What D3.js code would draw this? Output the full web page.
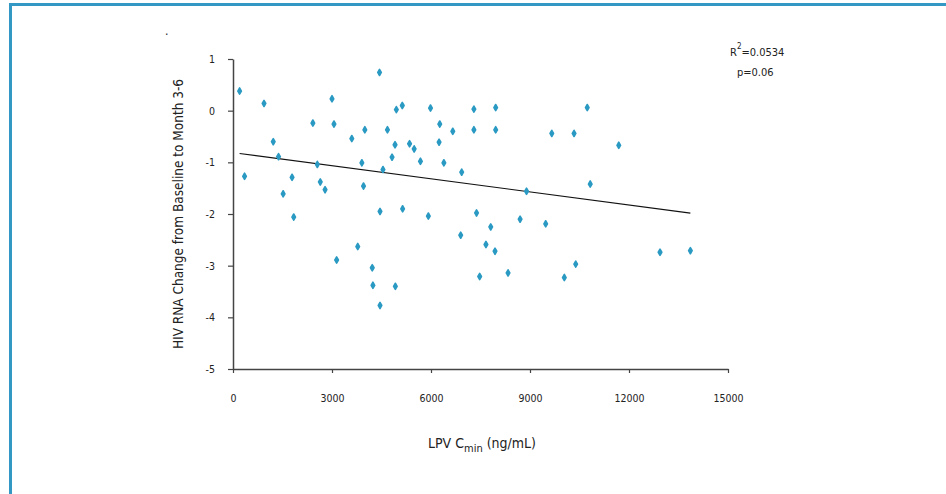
<!DOCTYPE html>
<html>
<head>
<meta charset="utf-8">
<script src="https://cdn.jsdelivr.net/npm/d3@7"></script>
<style>
  html, body { margin: 0; padding: 0; background: #fff; }
  svg { display: block; }
  text { font-family: "Liberation Sans Narrow", "DejaVu Sans Condensed", "Liberation Sans", sans-serif; fill: #222; }
</style>
</head>
<body>
<svg id="chart" width="946" height="494"></svg>
<script>
// ---- data ----
const lpvCmin = [200, 350, 940, 1220, 1380, 1520, 1790, 1840, 2420, 2555, 2645, 2790, 3000, 3060, 3140, 3600, 3780, 3905, 3955, 3995,
  4220, 4240, 4455, 4440, 4455, 4545, 4680, 4820, 4920, 4910, 4950, 5130, 5140, 5350, 5490, 5680, 5920, 5985, 6265, 6245,
  6390, 6660, 6900, 6930, 7300, 7300, 7380, 7475, 7665, 7810, 7940, 7960, 7960, 8335, 8700, 8895, 9475, 9660, 10040, 10335,
  10385, 10735, 10825, 11690, 12940, 13860];
const rnaChange = [0.38, -1.27, 0.14, -0.60, -0.89, -1.61, -1.29, -2.06, -0.24, -1.04, -1.38, -1.53, 0.23, -0.26, -2.89, -0.54, -2.63, -1.01, -1.46, -0.37,
  -3.04, -3.38, -1.95, 0.74, -3.77, -1.14, -0.37, -0.90, -3.40, -0.66, 0.02, 0.10, -1.90, -0.64, -0.74, -0.98, -2.04, 0.05, -0.26, -0.61,
  -1.01, -0.40, -2.41, -1.19, 0.03, -0.37, -1.98, -3.21, -2.59, -2.25, -2.72, 0.06, -0.37, -3.14, -2.10, -1.56, -2.19, -0.44, -3.23, -0.44,
  -2.97, 0.06, -1.42, -0.67, -2.74, -2.71];
const trendIntercept = [-0.812];
const trendSlope = [-0.0000845];
const xTicks = [0, 3000, 6000, 9000, 12000, 15000];
const yTicks = [1, 0, -1, -2, -3, -4, -5];
const statsText = ["0.0534", "p=0.06"];

// ---- drawing ----
const svg = d3.select("#chart");
const blue = "#3399c4";
const fmt = d => String(d); // plain hyphen-minus as in the reference

// frame
svg.append("line").attr("x1", 10.5).attr("x2", 946).attr("y1", 4.5).attr("y2", 4.5)
  .attr("stroke", blue).attr("stroke-width", 3);
svg.append("line").attr("x1", 10.5).attr("x2", 10.5).attr("y1", 3).attr("y2", 494)
  .attr("stroke", blue).attr("stroke-width", 3);

// stray dot
svg.append("text").attr("x", 165).attr("y", 35).attr("font-size", 12).text(".");

const x = d3.scaleLinear().domain([0, 15000]).range([233, 728]);
const y = d3.scaleLinear().domain([-5, 1]).range([369, 59]);

// axes
const xAxis = d3.axisBottom(x).tickValues(xTicks).tickSize(4).tickSizeOuter(0).tickFormat(fmt);
const gx = svg.append("g").attr("transform", `translate(0,${y(-5)})`).call(xAxis);
gx.select(".domain").attr("stroke", "#444").attr("stroke-width", 1.5);
gx.selectAll(".tick line").attr("stroke", "#444").attr("stroke-width", 1.2);
gx.selectAll(".tick text").attr("y", 26).attr("font-size", 10.5).attr("fill", "#222")
  .attr("font-family", "Liberation Sans Narrow, DejaVu Sans Condensed, sans-serif");

const yAxis = d3.axisLeft(y).tickValues(yTicks).tickSize(5).tickSizeOuter(0).tickFormat(fmt);
const gy = svg.append("g").attr("transform", `translate(${x(0)},0)`).call(yAxis);
gy.select(".domain").attr("stroke", "#444").attr("stroke-width", 1.5);
gy.selectAll(".tick line").attr("stroke", "#444").attr("stroke-width", 1.2);
gy.selectAll(".tick text").attr("x", -18).attr("font-size", 10.5).attr("fill", "#222")
  .attr("font-family", "Liberation Sans Narrow, DejaVu Sans Condensed, sans-serif");

// trend line
const xMin = d3.min(lpvCmin), xMax = d3.max(lpvCmin);
svg.append("line")
  .attr("x1", x(xMin)).attr("y1", y(trendIntercept[0] + trendSlope[0] * xMin))
  .attr("x2", x(xMax)).attr("y2", y(trendIntercept[0] + trendSlope[0] * xMax))
  .attr("stroke", "#111").attr("stroke-width", 1.1);

// points (small rounded diamonds)
const diamond = d3.symbol().type(d3.symbolDiamond).size(11);
svg.append("g").selectAll("path").data(lpvCmin).join("path")
  .attr("d", diamond)
  .attr("transform", (d, i) => `translate(${x(d)},${y(rnaChange[i])})`)
  .attr("fill", "#2a9ac3")
  .attr("stroke", "#2a9ac3").attr("stroke-width", 1.6).attr("stroke-linejoin", "round");

// axis titles
svg.append("text")
  .attr("transform", `translate(183,${(59 + 369) / 2}) rotate(-90)`)
  .attr("text-anchor", "middle").attr("font-size", 13.5)
  .text("HIV RNA Change from Baseline to Month 3-6");

const xt = svg.append("text").attr("x", 482).attr("y", 448).attr("text-anchor", "middle").attr("font-size", 14);
xt.append("tspan").text("LPV C");
xt.append("tspan").attr("dy", 4).attr("font-size", 11).text("min");
xt.append("tspan").attr("dy", -4).text(" (ng/mL)");

// stats
const st = svg.append("text").attr("x", 730).attr("y", 56).attr("font-size", 11);
st.append("tspan").text("R");
st.append("tspan").attr("dy", -7).attr("font-size", 8).text("2");
st.append("tspan").attr("dy", 7).text("=" + statsText[0]);
svg.append("text").attr("x", 737).attr("y", 76).attr("font-size", 11).text(statsText[1]);
</script>
</body>
</html>
